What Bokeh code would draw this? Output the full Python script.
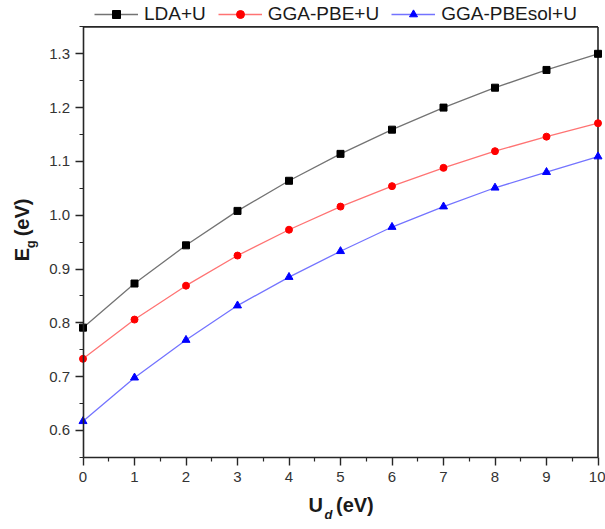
import math

from bokeh.embed import file_html
from bokeh.models import FixedTicker, Label, Legend, LegendItem, NumeralTickFormatter, Range1d
from bokeh.plotting import figure
from bokeh.resources import INLINE

# Band gap E_g (eV) versus Hubbard U_d (eV) for three functionals
u_d = [0, 1, 2, 3, 4, 5, 6, 7, 8, 9, 10]
lda_u = [0.791, 0.873, 0.944, 1.008, 1.064, 1.114, 1.159, 1.200, 1.237, 1.270, 1.300]
pbe_u = [0.733, 0.806, 0.869, 0.925, 0.973, 1.016, 1.054, 1.088, 1.119, 1.146, 1.171]
pbesol_u = [0.617, 0.698, 0.768, 0.832, 0.885, 0.933, 0.978, 1.016, 1.051, 1.080, 1.109]

series_names = ["LDA+U", "GGA-PBE+U", "GGA-PBEsol+U"]

x_ticks = [0, 1, 2, 3, 4, 5, 6, 7, 8, 9, 10]
x_minor = [0.5, 1.5, 2.5, 3.5, 4.5, 5.5, 6.5, 7.5, 8.5, 9.5]
y_ticks = [0.6, 0.7, 0.8, 0.9, 1.0, 1.1, 1.2, 1.3]
y_minor = [0.55, 0.65, 0.75, 0.85, 0.95, 1.05, 1.15, 1.25, 1.35]

X_LO, X_HI = 0, 10
Y_LO, Y_HI = 0.55, 1.35

FONT = "Liberation Sans"
AX = "#262626"

# The drawing area covers the whole canvas; the axes box sits inside it
# so that tick labels, titles, legend and edge markers are never clipped.
W, H = 605, 529
BOX_L, BOX_R = 82.5, 597.5
BOX_T, BOX_B = 26.4, 456.8
sx = (BOX_R - BOX_L) / (X_HI - X_LO)
sy = (BOX_B - BOX_T) / (Y_HI - Y_LO)

p = figure(
    width=W, height=H,
    x_range=Range1d(X_LO - BOX_L / sx, X_HI + (W - BOX_R) / sx),
    y_range=Range1d(Y_LO - (H - BOX_B) / sy, Y_HI + BOX_T / sy),
    min_border=0, min_border_left=0, min_border_right=0,
    min_border_top=0, min_border_bottom=0,
    output_backend="svg", toolbar_location=None,
)
p.outline_line_color = None
p.grid.visible = False
p.background_fill_color = "white"
p.border_fill_color = "white"

# axes pinned to the box edges
p.xaxis.fixed_location = Y_LO
p.yaxis.fixed_location = X_LO
p.xaxis.bounds = (X_LO, X_HI)
p.yaxis.bounds = (Y_LO, Y_HI)
p.xaxis.ticker = FixedTicker(ticks=x_ticks, minor_ticks=x_minor)
p.yaxis.ticker = FixedTicker(ticks=y_ticks, minor_ticks=y_minor)
p.yaxis.formatter = NumeralTickFormatter(format="0.0")
for ax in (p.xaxis, p.yaxis):
    ax.axis_line_color = AX
    ax.axis_line_width = 1.6
    ax.major_tick_line_color = AX
    ax.major_tick_line_width = 1.4
    ax.minor_tick_line_color = AX
    ax.minor_tick_line_width = 1.2
    ax.major_tick_in = 0
    ax.major_tick_out = 8
    ax.minor_tick_in = 0
    ax.minor_tick_out = 4
    ax.major_label_text_font = FONT
    ax.major_label_text_font_size = "15px"
    ax.major_label_text_color = "#333333"
p.yaxis.major_label_standoff = 5
p.xaxis.major_label_standoff = 7

# top and right sides of the box
p.segment(x0=[X_LO, X_HI], y0=[Y_HI, Y_LO], x1=[X_HI, X_HI], y1=[Y_HI, Y_HI],
          line_color=AX, line_width=1.6)

series = [
    (lda_u, "black", "square", 7),
    (pbe_u, "#ff0000", "circle", 7),
    (pbesol_u, "#0000ff", "triangle", 8),
]
items = []
for name, (vals, color, marker, size) in zip(series_names, series):
    ln = p.line(u_d, vals, line_color=color, line_alpha=0.55, line_width=1.3)
    sc = p.scatter(u_d, vals, marker=marker, size=size, fill_color=color, line_color=color)
    items.append(LegendItem(label=name, renderers=[ln, sc]))

legend = Legend(
    items=items, orientation="horizontal", location=(94, 504),
    label_text_font=FONT, label_text_font_size="19px", label_text_color="#1a1a1a",
    glyph_width=44, glyph_height=20, label_standoff=6, spacing=12,
    padding=0, margin=0, border_line_color=None, background_fill_alpha=0,
)
p.add_layout(legend)

# axis titles with subscripts
title_font = dict(text_font=FONT, text_font_style="bold", text_color="#1a1a1a")
x_mid = (X_LO + X_HI) / 2
p.add_layout(Label(x=x_mid, y=Y_LO, x_offset=-32, y_offset=-59, text="U",
                   text_font_size="20px", **title_font))
p.add_layout(Label(x=x_mid, y=Y_LO, x_offset=-16, y_offset=-65, text="d",
                   text_font_size="13px", text_font=FONT, text_font_style="bold italic",
                   text_color="#1a1a1a"))
p.add_layout(Label(x=x_mid, y=Y_LO, x_offset=-4.5, y_offset=-59, text="(eV)",
                   text_font_size="20px", **title_font))

p.add_layout(Label(x=X_LO, y=Y_LO, x_offset=-50.5, y_offset=196, text="E", angle=math.pi / 2,
                   text_font_size="20px", **title_font))
p.add_layout(Label(x=X_LO, y=Y_LO, x_offset=-45.5, y_offset=209, text="g", angle=math.pi / 2,
                   text_font_size="13px", **title_font))
p.add_layout(Label(x=X_LO, y=Y_LO, x_offset=-50.5, y_offset=221, text="(eV)", angle=math.pi / 2,
                   text_font_size="20px", **title_font))

open("out.html", "w").write(file_html(p, INLINE))
